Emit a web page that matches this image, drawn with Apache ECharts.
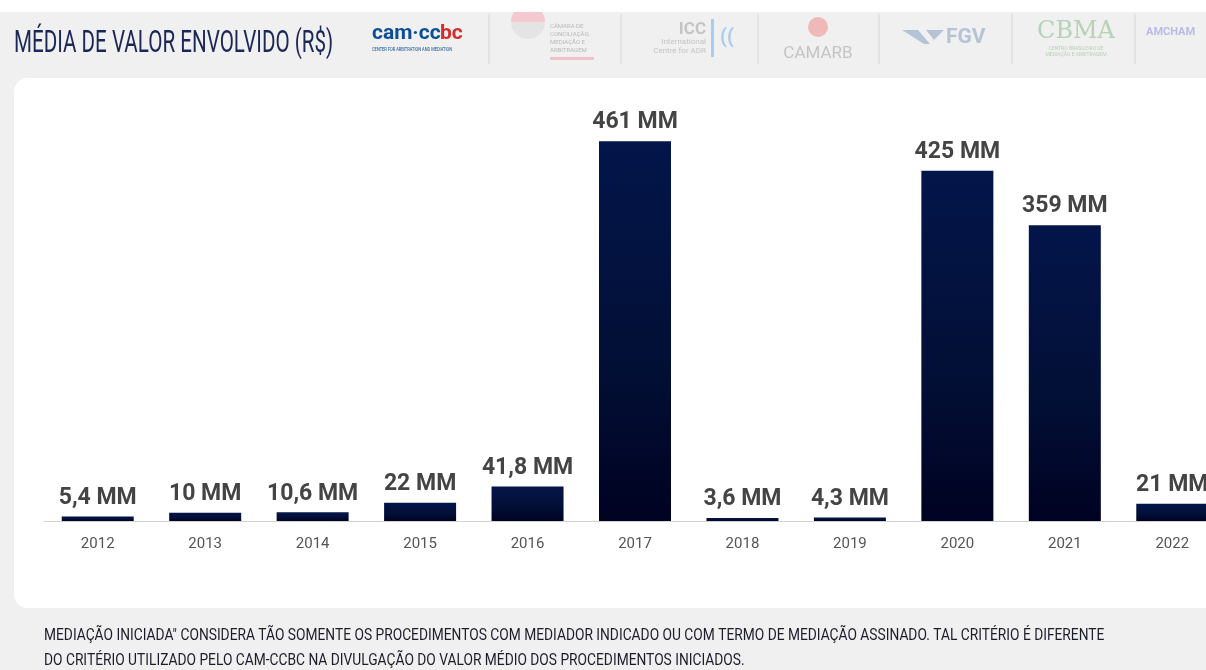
<!DOCTYPE html>
<html>
<head>
<meta charset="utf-8">
<script src="https://cdn.jsdelivr.net/npm/echarts@6/dist/echarts.min.js"></script>
<style>
  html, body { margin: 0; padding: 0; overflow: hidden; background: #f0f0f0; }
  #chart { width: 1240px; height: 670px; }
</style>
</head>
<body>
<div id="chart"></div>
<script>
// anos e média de valor envolvido (milhões de R$)
const years = ["2012", "2013", "2014", "2015", "2016", "2017", "2018", "2019", "2020", "2021", "2022"];
const values = [5.4, 10, 10.6, 22, 41.8, 461, 3.6, 4.3, 425, 359, 21];
const title = "MÉDIA DE VALOR ENVOLVIDO (R$)";
const noteLines = [
  "MEDIAÇÃO INICIADA\" CONSIDERA TÃO SOMENTE OS PROCEDIMENTOS COM MEDIADOR INDICADO OU COM TERMO DE MEDIAÇÃO ASSINADO. TAL CRITÉRIO É DIFERENTE",
  "DO CRITÉRIO UTILIZADO PELO CAM-CCBC NA DIVULGAÇÃO DO VALOR MÉDIO DOS PROCEDIMENTOS INICIADOS."
];

const chart = echarts.init(document.getElementById("chart"));

const sepX = [489, 621, 758, 879, 1012, 1135];
const logoGrey = "#c4c4c4";

const graphics = [
  // cartão branco
  { type: "rect", z: -10, shape: { x: 14, y: 78, width: 1300, height: 530, r: 14 }, style: { fill: "#ffffff" } },
  // título
  {
    type: "text", x: 14, y: 44, scaleX: 0.665,
    style: { text: title, font: "400 31px Roboto", fill: "#1b2756", verticalAlign: "middle" }
  },
  // logos (aproximação em texto)
  { type: "text", x: 372, y: 34, style: { text: "cam·cc", font: "bold 21px Roboto", fill: "#0d4f96", verticalAlign: "middle" } },
  { type: "text", x: 440, y: 34, style: { text: "bc", font: "bold 21px Roboto", fill: "#d62c2c", verticalAlign: "middle" } },
  { type: "text", x: 372, y: 50, scaleX: 0.8, style: { text: "CENTER FOR ARBITRATION AND MEDIATION", font: "5px Roboto", fill: "#0d4f96", verticalAlign: "middle" } },
  { type: "circle", shape: { cx: 528, cy: 22, r: 17 }, style: { fill: "#e4e4e4" } },
  { type: "sector", shape: { cx: 528, cy: 22, r: 17, r0: 0, startAngle: Math.PI, endAngle: Math.PI * 2 }, style: { fill: "#f4c9cf" } },
  { type: "text", x: 550, y: 22, style: { text: "CÂMARA DE\nCONCILIAÇÃO,\nMEDIAÇÃO E\nARBITRAGEM", font: "6px Roboto", lineHeight: 8, fill: "#b8b8b8" } },
  { type: "rect", shape: { x: 550, y: 57, width: 44, height: 3 }, style: { fill: "#efc4c8" } },
  { type: "text", x: 706, y: 30, style: { text: "ICC", font: "bold 17px Roboto", fill: logoGrey, align: "right", verticalAlign: "middle" } },
  { type: "text", x: 706, y: 46, style: { text: "International\nCentre for ADR", font: "8px Roboto", lineHeight: 9, fill: logoGrey, align: "right", verticalAlign: "middle" } },
  { type: "rect", shape: { x: 711, y: 19, width: 3, height: 38 }, style: { fill: "#a9cdf0" } },
  { type: "text", x: 720, y: 38, style: { text: "((", font: "bold 20px Roboto", fill: "#a9cdf0", verticalAlign: "middle" } },
  { type: "circle", shape: { cx: 818, cy: 27, r: 10 }, style: { fill: "#f0b9b9" } },
  { type: "text", x: 818, y: 54, style: { text: "CAMARB", font: "17px Roboto", fill: logoGrey, align: "center", verticalAlign: "middle" } },
  { type: "polygon", shape: { points: [[902, 30], [918, 30], [930, 44], [924, 44]] }, style: { fill: "#b4c4d6" } },
  { type: "polygon", shape: { points: [[926, 30], [944, 30], [934, 40]] }, style: { fill: "#b4c4d6" } },
  { type: "text", x: 946, y: 38, style: { text: "FGV", font: "bold 21px Roboto", fill: "#b4c4d6", verticalAlign: "middle" } },
  { type: "text", x: 1076, y: 32, style: { text: "CBMA", font: "24px 'DejaVu Serif'", fill: "#b6d3b6", align: "center", verticalAlign: "middle" } },
  { type: "text", x: 1076, y: 52, style: { text: "CENTRO BRASILEIRO DE\nMEDIAÇÃO E ARBITRAGEM", font: "5px Roboto", lineHeight: 6, fill: "#b6d3b6", align: "center", verticalAlign: "middle" } },
  { type: "text", x: 1146, y: 32, style: { text: "AMCHAM", font: "bold 11px Roboto", fill: "#b9bce8", verticalAlign: "middle" } },
  // faixa branca no topo
  { type: "rect", shape: { x: 0, y: 0, width: 1240, height: 12 }, style: { fill: "#ffffff" } },
  // nota de rodapé
  {
    type: "text", x: 44, y: 636, scaleX: 0.81,
    style: { text: noteLines[0], font: "400 17px Roboto", fill: "#1c1c2a", verticalAlign: "middle" }
  },
  {
    type: "text", x: 44, y: 661, scaleX: 0.81,
    style: { text: noteLines[1], font: "400 17px Roboto", fill: "#1c1c2a", verticalAlign: "middle" }
  }
];
sepX.forEach(function (x) {
  graphics.push({ type: "line", shape: { x1: x, y1: 14, x2: x, y2: 64 }, style: { stroke: "#d6d6d6", lineWidth: 1 } });
});

const option = {
  backgroundColor: "#f0f0f0",
  animation: false,
  graphic: { elements: graphics },
  grid: { left: 44, right: 14, top: 109, bottom: 149 },
  xAxis: {
    type: "category",
    data: years,
    axisLine: { lineStyle: { color: "#d2d2d2", width: 1 } },
    axisTick: { show: false },
    axisLabel: { color: "#555555", fontSize: 15, fontFamily: "Roboto", margin: 16 }
  },
  yAxis: {
    type: "value",
    min: 0,
    max: 500,
    show: false,
    splitLine: { show: false }
  },
  series: [
    {
      type: "bar",
      data: values,
      barWidth: 72,
      itemStyle: {
        color: {
          type: "linear", x: 0, y: 0, x2: 0, y2: 1,
          colorStops: [
            { offset: 0, color: "#03154a" },
            { offset: 0.6, color: "#020f35" },
            { offset: 1, color: "#000222" }
          ]
        }
      },
      label: {
        show: true,
        position: "top",
        distance: 7,
        color: "#444444",
        fontSize: 23,
        fontWeight: "bold",
        fontFamily: "Roboto",
        formatter: function (p) {
          return String(p.value).replace(".", ",") + " MM";
        }
      }
    }
  ]
};

chart.setOption(option);
</script>
</body>
</html>
